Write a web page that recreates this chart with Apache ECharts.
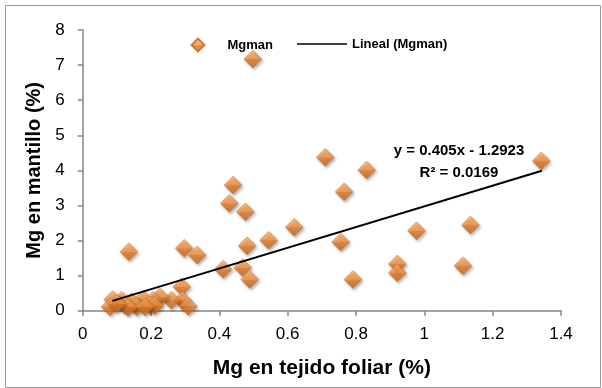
<!DOCTYPE html>
<html>
<head>
<meta charset="utf-8">
<script src="https://cdn.jsdelivr.net/npm/echarts@6/dist/echarts.min.js"></script>
<style>
html,body{margin:0;padding:0;background:#fff;}
#chart{width:602px;height:388px;}
</style>
</head>
<body>
<div id="chart"></div>
<script>
// Mg en tejido foliar (%) — x values
var mgFoliar = [
  0.498, 0.710, 0.831, 0.765, 0.440, 0.429, 0.476, 0.619, 0.544, 0.481,
  0.297, 0.335, 0.135, 0.411, 0.468, 0.489, 0.755, 0.791, 0.977, 0.921,
  0.921, 1.135, 1.113, 1.342, 0.290, 0.292, 0.309, 0.260, 0.226, 0.177,
  0.206, 0.114, 0.088, 0.143, 0.080, 0.124, 0.158, 0.197, 0.211, 0.133,
  0.182, 0.100
];
// Mg en mantillo (%) — y values
var mgMantillo = [
  7.17, 4.37, 4.01, 3.39, 3.58, 3.06, 2.82, 2.38, 2.01, 1.85,
  1.78, 1.59, 1.68, 1.18, 1.23, 0.89, 1.96, 0.89, 2.28, 1.33,
  1.08, 2.44, 1.28, 4.27, 0.68, 0.30, 0.13, 0.30, 0.40, 0.33,
  0.30, 0.30, 0.32, 0.26, 0.11, 0.16, 0.11, 0.16, 0.15, 0.10,
  0.11, 0.20
];
// Trend line ends (Lineal (Mgman)) as drawn
var trendX = [0.087, 1.344];
var trendY = [0.28, 3.99];

var xTickLabels = ['0', '0.2', '0.4', '0.6', '0.8', '1', '1.2', '1.4'];
var yTickLabels = ['0', '1', '2', '3', '4', '5', '6', '7', '8'];

var seriesName = 'Mgman';
var trendName = 'Lineal (Mgman)';
var equationText = 'y = 0.405x - 1.2923';
var r2Text = 'R² = 0.0169';
var xTitle = 'Mg en tejido foliar (%)';
var yTitle = 'Mg en mantillo (%)';

var scatterData = mgFoliar.map(function (x, i) { return [x, mgMantillo[i]]; });
var trendData = trendX.map(function (x, i) { return [x, trendY[i]]; });

var diamondColor = new echarts.graphic.LinearGradient(0, 0, 0, 1, [
  { offset: 0, color: '#fbb064' },
  { offset: 0.5, color: '#f28f40' },
  { offset: 0.52, color: '#e07a28' },
  { offset: 1, color: '#c4641a' }
]);

// thin horizontal line icon; tiny corner specks keep the box 50x14 so the bar is not stretched
var lineIcon = 'path://M0,0L0.01,0L0,0.01Z M0,6.2L50,6.2L50,7.8L0,7.8Z M49.99,14L50,14L50,13.99Z';

var chart = echarts.init(document.getElementById('chart'), null, { renderer: 'canvas' });
var axisColor = '#868686';
var tickFont = { fontFamily: 'Liberation Sans', fontSize: 17, color: '#000' };

chart.setOption({
  animation: false,
  backgroundColor: '#fff',
  grid: { left: 82.7, right: 41, top: 30, bottom: 77.3 },
  xAxis: {
    type: 'value', min: 0, max: 1.4, interval: 0.2,
    name: xTitle, nameLocation: 'middle', nameGap: 47,
    nameTextStyle: { fontFamily: 'Liberation Sans', fontWeight: 'bold', fontSize: 21, color: '#000' },
    axisLine: { show: true, lineStyle: { color: axisColor, width: 1.5 } },
    axisTick: { show: true, inside: false, length: 5, lineStyle: { color: axisColor, width: 1.5 } },
    splitLine: { show: false },
    axisLabel: Object.assign({ margin: 15, formatter: function (v) { return xTickLabels[Math.round(v / 0.2)]; } }, tickFont)
  },
  yAxis: {
    type: 'value', min: 0, max: 8, interval: 1,
    name: yTitle, nameLocation: 'middle', nameGap: 33,
    nameTextStyle: { fontFamily: 'Liberation Sans', fontWeight: 'bold', fontSize: 20, color: '#000' },
    axisLine: { show: true, lineStyle: { color: axisColor, width: 1.5 } },
    axisTick: { show: true, inside: false, length: 5, lineStyle: { color: axisColor, width: 1.5 } },
    splitLine: { show: false },
    axisLabel: Object.assign({ margin: 18, formatter: function (v) { return yTickLabels[Math.round(v)]; } }, tickFont)
  },
  legend: [
    {
      data: [{ name: seriesName, icon: 'diamond' }],
      left: 190.5, top: 37.5, itemWidth: 13, itemHeight: 13, padding: 0,
      textStyle: { fontFamily: 'Liberation Sans', fontWeight: 'bold', fontSize: 13, color: '#000', padding: [0, 0, 0, 18] }
    },
    {
      data: [{ name: trendName, icon: lineIcon }],
      left: 297, top: 37, itemWidth: 50, itemHeight: 14, padding: 0,
      itemStyle: { color: '#000' },
      textStyle: { fontFamily: 'Liberation Sans', fontWeight: 'bold', fontSize: 13, color: '#000' }
    }
  ],
  series: [
    {
      name: seriesName, type: 'scatter', symbol: 'diamond', symbolSize: 18,
      data: scatterData,
      itemStyle: {
        color: diamondColor, borderColor: '#c4661e', borderWidth: 0.5,
        shadowBlur: 3, shadowColor: 'rgba(0,0,0,0.35)', shadowOffsetX: 1.5, shadowOffsetY: 2
      },
      z: 3
    },
    {
      name: trendName, type: 'line', symbol: 'none', showSymbol: false,
      data: trendData,
      lineStyle: { color: '#000', width: 2 },
      itemStyle: { color: '#000' },
      z: 4
    }
  ],
  graphic: [
    { type: 'rect', left: 3, top: 3, shape: { width: 595, height: 382 },
      style: { fill: 'none', stroke: '#999', lineWidth: 1 }, silent: true, z: -1 },
    { type: 'text', x: 459, y: 151, style: { text: equationText, align: 'center', verticalAlign: 'middle',
      font: 'bold 15px "Liberation Sans"', fill: '#000' }, z: 10 },
    { type: 'text', x: 459, y: 173, style: { text: r2Text, align: 'center', verticalAlign: 'middle',
      font: 'bold 15px "Liberation Sans"', fill: '#000' }, z: 10 }
  ]
});
</script>
</body>
</html>
